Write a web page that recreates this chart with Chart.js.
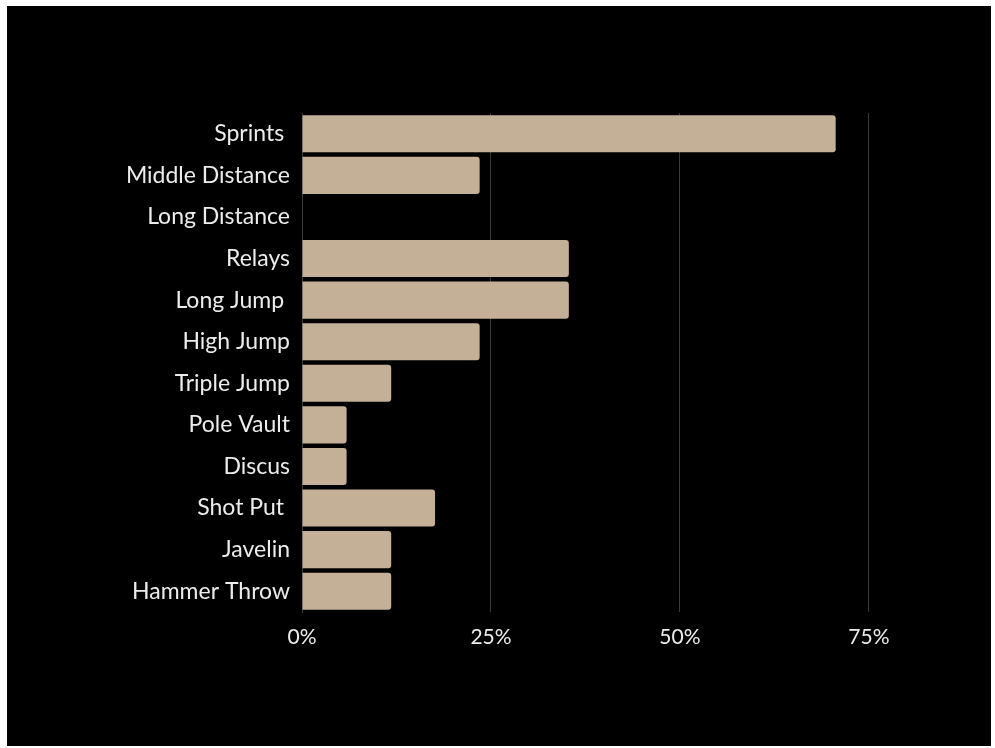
<!DOCTYPE html>
<html>
<head>
<meta charset="utf-8">
<script src="https://cdn.jsdelivr.net/npm/chart.js@4.4.1/dist/chart.umd.min.js"></script>
<style>
  html, body { margin: 0; padding: 0; background: #fff; }
  #wrap { position: absolute; left: 7px; top: 6px; width: 984px; height: 740px; background: #000; }
</style>
</head>
<body>
<div id="wrap"><canvas id="chart"></canvas></div>
<script>
// Events and share of athletes (%)
const events = ['Sprints ', 'Middle Distance', 'Long Distance', 'Relays', 'Long Jump ', 'High Jump',
                'Triple Jump', 'Pole Vault', 'Discus', 'Shot Put ', 'Javelin', 'Hammer Throw'];
const shares = [70.6, 23.5, 0, 35.3, 35.3, 23.5, 11.8, 5.9, 5.9, 17.6, 11.8, 11.8];
const tickValues = [0, 25, 50, 75];

const C = {
  bar:   '#c4b096',
  grid:  '#3a3a3a',
  text:  '#ececec',
};

Chart.defaults.font.family = "Lato, sans-serif";

new Chart(document.getElementById('chart'), {
  type: 'bar',
  data: {
    labels: events,
    datasets: [{
      data: shares,
      backgroundColor: C.bar,
      borderWidth: 0,
      borderRadius: 3,
      categoryPercentage: 1,
      barPercentage: 0.89,
    }],
  },
  options: {
    indexAxis: 'y',
    responsive: true,
    maintainAspectRatio: false,
    animation: false,
    layout: { padding: { top: 107, right: 51, bottom: 94, left: 0 } },
    plugins: { legend: { display: false }, tooltip: { enabled: false } },
    scales: {
      x: {
        min: 0,
        max: 84.4,
        afterBuildTicks(axis) { axis.ticks = tickValues.map(v => ({ value: v })); },
        afterFit(axis) { axis.height = 40; },
        grid: { color: C.grid, drawTicks: false, lineWidth: 1 },
        border: { display: false },
        ticks: {
          color: C.text,
          padding: 13,
          font: { size: 21 },
          callback: v => v + '%',
        },
      },
      y: {
        afterFit(axis) { axis.width = 295; },
        grid: { display: false, drawTicks: false },
        border: { color: C.grid },
        ticks: { color: C.text, padding: 12, font: { size: 23 } },
      },
    },
  },
});
</script>
</body>
</html>
